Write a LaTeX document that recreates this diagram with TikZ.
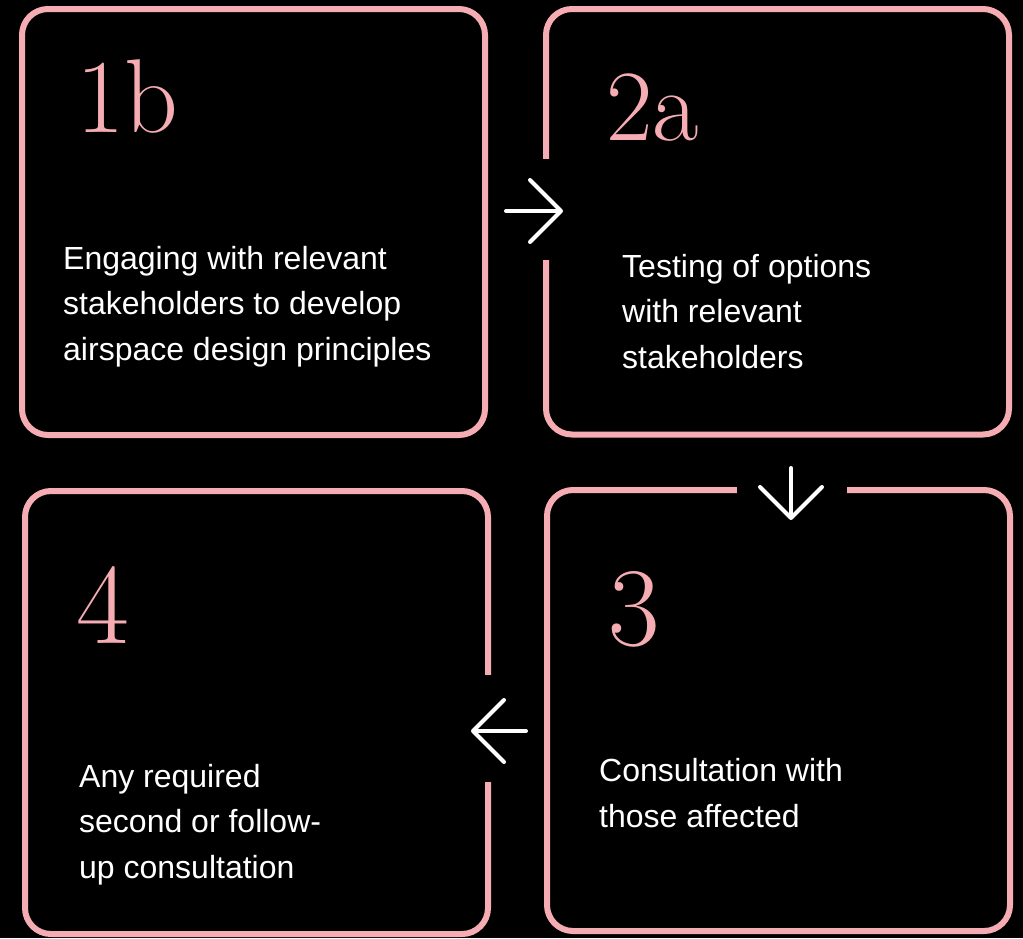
\documentclass[tikz,border=0pt]{standalone}
\usepackage{fontspec}
\setsansfont{Liberation Sans}
\usetikzlibrary{positioning,arrows.meta}
\definecolor{stagepink}{RGB}{245,173,179}

\begin{document}
\begin{tikzpicture}[x=1pt,y=-1pt,
    stage/.style={draw=stagepink,line width=6pt,rounded corners=26pt,minimum width=463pt,inner sep=0},
    cut/.style={fill=black},
    number/.style={text=stagepink,anchor=base west,inner sep=0,font=\fontsize{#1}{#1}\selectfont},
    blurb/.style={text=white,anchor=base west,inner sep=0,align=left,font=\sffamily\fontsize{32}{45.5}\selectfont},
    flow/.style={draw=white,line width=4pt,line cap=round,-{Straight Barb[length=31pt,width=62pt,round]}}
]

\fill[black] (0,0) rectangle (1023,938);

% the four stages
\node[stage,minimum height=426pt] (s1b) at (253.5,222) {};
\node[stage,minimum height=425.5pt] (s2a) at (777.5,221.75) {};
\node[stage,minimum height=441pt] (s3) at (778.5,710.5) {};
\node[stage,minimum height=443pt] (s4) at (256.5,712.5) {};

% openings where the arrows pass
\fill[cut] (540,159) rectangle (552,260);
\fill[cut] (737,484) rectangle (847,496);
\fill[cut] (482,675) rectangle (494,782);

\node[number=105] (n1b) at (76,132) {1b};
\node[number=101] (n2a) at (606,140) {2a};
\node[number=112] (n3) at (608,645) {3};
\node[number=115] (n4) at (76,643) {4};

% base anchor sits on the last line
\node[blurb] (t1b) at (63,360) {Engaging with relevant\\stakeholders to develop\\airspace design principles};
\node[blurb] (t2a) at (622,368) {Testing of options\\with relevant\\stakeholders};
\node[blurb] (t3) at (599,827) {Consultation with\\those affected};
\node[blurb] (t4) at (79,878) {Any required\\second or follow-\\up consultation};

\coordinate (a1) at (506,211);
\coordinate (a2) at (563,211);
\coordinate (b1) at (791,468);
\coordinate (b2) at (791,520);
\coordinate (c1) at (526,731);
\coordinate (c2) at (471,731);

\draw[flow] (a1) -- (a2);
\draw[flow] (b1) -- (b2);
\draw[flow] (c1) -- (c2);

\end{tikzpicture}
\end{document}
